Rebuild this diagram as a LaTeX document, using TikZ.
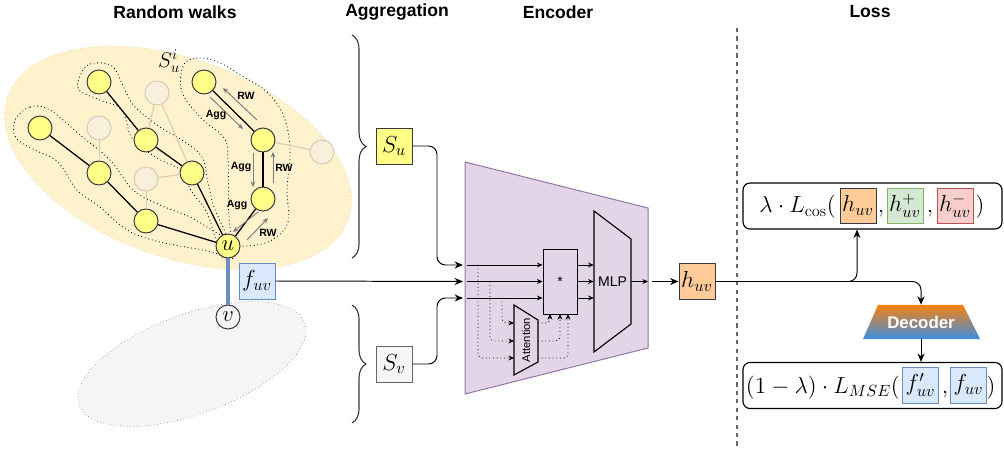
\RequirePackage{fix-cm}
\documentclass[tikz,border=0pt]{standalone}
\usepackage{fontspec}
\usepackage{graphicx}
\setsansfont{Liberation Sans}
\usetikzlibrary{arrows.meta, decorations.pathreplacing, shapes.geometric, positioning}

\newlength\pxu
\setlength\pxu{0.025cm}
\newcommand\mathbig{\fontsize{16.5}{19}\selectfont}

\definecolor{walkfill}{HTML}{FFFF88}
\definecolor{walkline}{HTML}{36393D}
\definecolor{tanfill}{HTML}{FFF2CC}
\definecolor{tanline}{HTML}{D6B656}
\definecolor{fadefill}{HTML}{F8F0DD}
\definecolor{fadeline}{HTML}{D2C9B6}
\definecolor{grayfill}{HTML}{F5F5F5}
\definecolor{grayline}{HTML}{666666}
\definecolor{bluefill}{HTML}{DAE8FC}
\definecolor{blueline}{HTML}{6C8EBF}
\definecolor{encfill}{HTML}{E1D5E7}
\definecolor{encline}{HTML}{9673A6}
\definecolor{orangefill}{HTML}{FFCC99}
\definecolor{greenfill}{HTML}{D5E8D4}
\definecolor{greenline}{HTML}{82B366}
\definecolor{redfill}{HTML}{F8CECC}
\definecolor{redline}{HTML}{B85450}
\definecolor{decorange}{HTML}{F5820F}
\definecolor{decblue}{HTML}{3D8EE0}
\definecolor{walkarrow}{HTML}{7F7F7F}

\tikzset{
	walknode/.style={circle, draw=walkline, fill=walkfill, line width=0.7pt, minimum size=24\pxu, inner sep=0pt},
	fadenode/.style={circle, draw=fadeline, fill=fadefill, line width=0.7pt, minimum size=24\pxu, inner sep=0pt},
	walkedge/.style={line width=0.9pt, draw=black},
	fadeedge/.style={line width=0.7pt, draw=fadeline},
	walkcontour/.style={dotted, line width=0.6pt},
	rwarrow/.style={-{Stealth[length=4pt,width=3.5pt]}, line width=0.7pt, draw=walkarrow},
	rwlabel/.style={font=\sffamily\bfseries\fontsize{7.5}{8}\selectfont, inner sep=0pt},
	featbox/.style={draw, minimum width=36\pxu, minimum height=36\pxu, inner sep=0pt, font=\mathbig, line width=0.7pt},
	arrow/.style={-{Stealth[length=6pt,width=5pt]}, line width=0.7pt},
	smallarrow/.style={-{Stealth[length=4pt,width=3.5pt]}, line width=0.6pt},
	dotarrow/.style={smallarrow, dotted, rounded corners=3pt},
	brace/.style={decorate, decoration={brace, amplitude=10pt}, line width=0.8pt, draw=walkline},
	title/.style={font=\sffamily\bfseries\fontsize{12.5}{15}\selectfont},
	lossbox/.style={draw, rounded corners=5pt, line width=0.8pt, minimum width=259\pxu, minimum height=46\pxu},
	sepline/.style={dashed, line width=0.9pt, draw=grayline}
}

\begin{document}
\begin{tikzpicture}[x=0.025cm, y=-0.025cm]
	\useasboundingbox (0,0) rectangle (1004,451);
	
	% titles
	\node[title] (ttlwalks) at (175,12) {Random walks};
	\node[title] (ttlagg) at (397,12) {Aggregation};
	\node[title] (ttlenc) at (558,12) {Encoder};
	\node[title] (ttlloss) at (870,12) {Loss};
	
	% neighbourhoods of u and v
	\draw[fill=tanfill, draw=tanline, dotted, rotate around={-20:(178,158)}] (178,158) ellipse [x radius=181, y radius=99];
	\draw[fill=grayfill, draw=grayline, dotted, rotate around={20:(192,364)}] (192,364) ellipse [x radius=120, y radius=50];
	
	% walk outlines
	\draw[walkcontour] plot[smooth cycle, tension=0.6] coordinates {(15,120) (30,107) (50,110) (80,135) (110,160) (133,190) (160,205) (190,217) (215,232) (238,246) (230,260) (212,252) (160,242) (127,230) (100,207) (77,190) (58,162) (35,150) (16,138)};
	\draw[walkcontour] plot[smooth cycle, tension=0.6] coordinates {(80,76) (90,64) (112,66) (124,88) (135,107) (160,127) (182,140) (202,157) (208,183) (214,207) (226,234) (232,252) (220,250) (207,213) (192,192) (180,170) (157,158) (132,138) (122,110) (100,100) (79,90)};
	\draw[walkcontour] plot[smooth cycle, tension=0.6] coordinates {(183,66) (196,58) (218,62) (242,76) (267,92) (284,117) (290,150) (287,190) (288,222) (272,240) (248,246) (234,242) (229,217) (228,160) (224,138) (200,117) (182,92)};
	
	% faded neighbours
	\node[fadenode] (f1) at (157,93) {};
	\node[fadenode] (f2) at (99,128) {};
	\node[fadenode] (f3) at (146,179) {};
	\node[fadenode] (f4) at (322,152) {};
	
	% walk nodes
	\node[walknode] (a1) at (40,128) {};
	\node[walknode] (a2) at (99,173) {};
	\node[walknode] (a3) at (146,221) {};
	\node[walknode] (b1) at (99,82) {};
	\node[walknode] (b2) at (146,140) {};
	\node[walknode] (b3) at (192,173) {};
	\node[walknode] (c1) at (204,82) {};
	\node[walknode] (c2) at (263,140) {};
	\node[walknode] (c3) at (263,199) {};
	\node[walknode, font=\fontsize{16}{18}\selectfont] (u) at (228,246) {$u$};
	\node[circle, draw=walkline, fill=grayfill, line width=0.7pt, minimum size=24\pxu, inner sep=0pt, font=\fontsize{16}{18}\selectfont] (v) at (228,317) {$v$};
	\node[font=\fontsize{15}{17}\selectfont] (sui) at (169,61) {$S_u^i$};
	
	\draw[fadeedge] (f1) -- (b2);
	\draw[fadeedge] (f1) -- (b3);
	\draw[fadeedge] (f2) -- (a2);
	\draw[fadeedge] (f3) -- (b3);
	\draw[fadeedge] (f3) -- (a3);
	\draw[fadeedge] (f4) -- (c2);
	
	\draw[walkedge] (a1) -- (a2);
	\draw[walkedge] (a2) -- (a3);
	\draw[walkedge] (a3) -- (u);
	\draw[walkedge] (b1) -- (b2);
	\draw[walkedge] (b2) -- (b3);
	\draw[walkedge] (b3) -- (u);
	\draw[walkedge] (c1) -- (c2);
	\draw[walkedge] (c2) -- (c3);
	\draw[walkedge] (c3) -- (u);
	
	% random walk / aggregation directions
	\draw[rwarrow] (257,120) -- (223,88);
	\draw[rwarrow] (210,97) -- (243,129);
	\draw[rwarrow] (253,153) -- (253,187);
	\draw[rwarrow] (273,183) -- (273,152);
	\draw[rwarrow] (258,212) -- (233,232);
	\draw[rwarrow] (247,240) -- (268,218);
	\node[rwlabel] (rw1) at (246,96) {RW};
	\node[rwlabel] (agg1) at (216,115) {Agg};
	\node[rwlabel] (agg2) at (241,167) {Agg};
	\node[rwlabel] (rw2) at (284,168) {RW};
	\node[rwlabel] (agg3) at (237,205) {Agg};
	\node[rwlabel] (rw3) at (268,233) {RW};
	
	% edge features
	\draw[line width=2.8pt, draw=blueline] (u.south) -- (v.north);
	\node[featbox, fill=bluefill, draw=blueline] (fuv) at (257,281) {$f_{uv}$};
	
	% aggregation
	\draw[brace] (352,35) -- (352,258);
	\draw[brace] (352,305) -- (352,423);
	\node[featbox, fill=walkfill, draw=walkline] (su) at (394,146) {$S_u$};
	\node[featbox, fill=grayfill, draw=grayline] (sv) at (394,364) {$S_v$};
	
	% encoder
	\draw[fill=encfill, draw=encline, line width=0.7pt] (465,162) -- (648,208) -- (648,348) -- (465,394) -- cycle;
	\coordinate (inA) at (463,265);
	\coordinate (inB) at (463,281.5);
	\coordinate (inC) at (463,298);
	\coordinate (encinA) at (467,265);
	\coordinate (encinB) at (467,281.5);
	\coordinate (encinC) at (467,298);
	\coordinate (tapA) at (478,265);
	\coordinate (tapB) at (490,281.5);
	\coordinate (tapC) at (502,298);
	\node[draw, line width=0.7pt, minimum width=34\pxu, minimum height=65\pxu, inner sep=0pt, font=\sffamily\fontsize{10}{12}\selectfont] (star) at (560,281.5) {*};
	\node[minimum width=37\pxu, minimum height=141\pxu, inner sep=0pt, font=\sffamily\fontsize{10}{12}\selectfont] (mlp) at (612.5,281.5) {MLP};
	\draw[line width=0.8pt] (594,211) -- (631,239) -- (631,324) -- (594,352) -- cycle;
	\node[minimum width=24\pxu, minimum height=70\pxu, inner sep=0pt, font=\sffamily\fontsize{8}{10}\selectfont] (attn) at (526,340) {\rotatebox{90}{Attention}};
	\draw[line width=0.8pt] (514,305) -- (538,320) -- (538,362) -- (514,375) -- cycle;
	\coordinate (attinA) at (514,358);
	\coordinate (attinB) at (514,341);
	\coordinate (attinC) at (514,323);
	\coordinate (attoutA) at (538,323);
	\coordinate (attoutB) at (538,341);
	\coordinate (attoutC) at (538,358);
	\coordinate (starinA) at (550,314);
	\coordinate (starinB) at (560,314);
	\coordinate (starinC) at (568,314);
	\coordinate (encout) at (648,281.5);
	\coordinate (encedge) at (652,281.5);
	
	\draw[arrow, rounded corners=6pt] (su.east) -- (437,146) -- (437,265) -- (inA);
	\draw[arrow] (fuv.east) -- (inB);
	\draw[arrow, rounded corners=6pt] (sv.east) -- (437,364) -- (437,298) -- (inC);
	
	\draw[smallarrow] (encinA) -- (encinA -| star.west);
	\draw[smallarrow] (encinB) -- (encinB -| star.west);
	\draw[smallarrow] (encinC) -- (encinC -| star.west);
	\draw[dotarrow] (tapA) -- (tapA |- attinA) -- (attinA);
	\draw[dotarrow] (tapB) -- (tapB |- attinB) -- (attinB);
	\draw[dotarrow] (tapC) -- (tapC |- attinC) -- (attinC);
	\draw[dotarrow] (attoutA) -- (attoutA -| starinA) -- (starinA);
	\draw[dotarrow] (attoutB) -- (attoutB -| starinB) -- (starinB);
	\draw[dotarrow] (attoutC) -- (attoutC -| starinC) -- (starinC);
	\draw[smallarrow] (star.east |- encinA) -- (mlp.west |- encinA);
	\draw[smallarrow] (star.east |- encinB) -- (mlp.west |- encinB);
	\draw[smallarrow] (star.east |- encinC) -- (mlp.west |- encinC);
	\draw[smallarrow] (mlp.east) -- (encout);
	
	\node[featbox, fill=orangefill, draw=walkline] (huv) at (697,281.5) {$h_{uv}$};
	\draw[arrow] (encedge) -- (huv.west);
	
	% loss
	\draw[sepline] (737,28) -- (737,447);
	\node[lossbox] (losscos) at (872.5,206) {};
	\node[lossbox] (lossmse) at (872.5,385.5) {};
	\node[anchor=base east, inner sep=0pt, font=\mathbig] (coslbl) at (836,213) {$\lambda\cdot L_{\cos}($};
	\node[featbox, fill=orangefill, draw=walkline, minimum height=35\pxu] (hcos) at (858,205.5) {$h_{uv}$};
	\node[anchor=base, inner sep=0pt, font=\mathbig] (comma1) at (881,213) {$,$};
	\node[featbox, fill=greenfill, draw=greenline, minimum height=35\pxu] (hpos) at (905,205.5) {$h_{uv}^{+}$};
	\node[anchor=base, inner sep=0pt, font=\mathbig] (comma2) at (930,213) {$,$};
	\node[featbox, fill=redfill, draw=redline, minimum height=35\pxu] (hneg) at (955,205.5) {$h_{uv}^{-}$};
	\node[anchor=base, inner sep=0pt, font=\mathbig] (close1) at (980,213) {$)$};
	
	\node[anchor=base east, inner sep=0pt, font=\mathbig] (mselbl) at (900,393) {$(1-\lambda)\cdot L_{MSE}($};
	\node[featbox, fill=bluefill, draw=blueline] (fdec) at (920.5,385) {$f'_{uv}$};
	\node[anchor=base, inner sep=0pt, font=\mathbig] (comma3) at (945,393) {$,$};
	\node[featbox, fill=bluefill, draw=blueline] (fmse) at (968.5,385) {$f_{uv}$};
	\node[anchor=base, inner sep=0pt, font=\mathbig] (close2) at (991,393) {$)$};
	
	% decoder
	\shade[top color=decorange, bottom color=decblue] (878,305) -- (963,305) -- (980,339) -- (863,339) -- cycle;
	\node[minimum width=85\pxu, minimum height=34\pxu, inner sep=0pt, text=white, font=\sffamily\bfseries\fontsize{12}{14}\selectfont] (dec) at (921,322) {Decoder};
	
	\coordinate (split) at (857,281.5);
	\draw[arrow, rounded corners=6pt] (huv.east) -- (split) -- (split |- losscos.south);
	\draw[arrow, rounded corners=6pt] (huv.east) -- (dec.north |- huv.east) -- (dec.north);
	\draw[arrow] (dec.south) -- (dec.south |- lossmse.north);
	
\end{tikzpicture}
\end{document}
